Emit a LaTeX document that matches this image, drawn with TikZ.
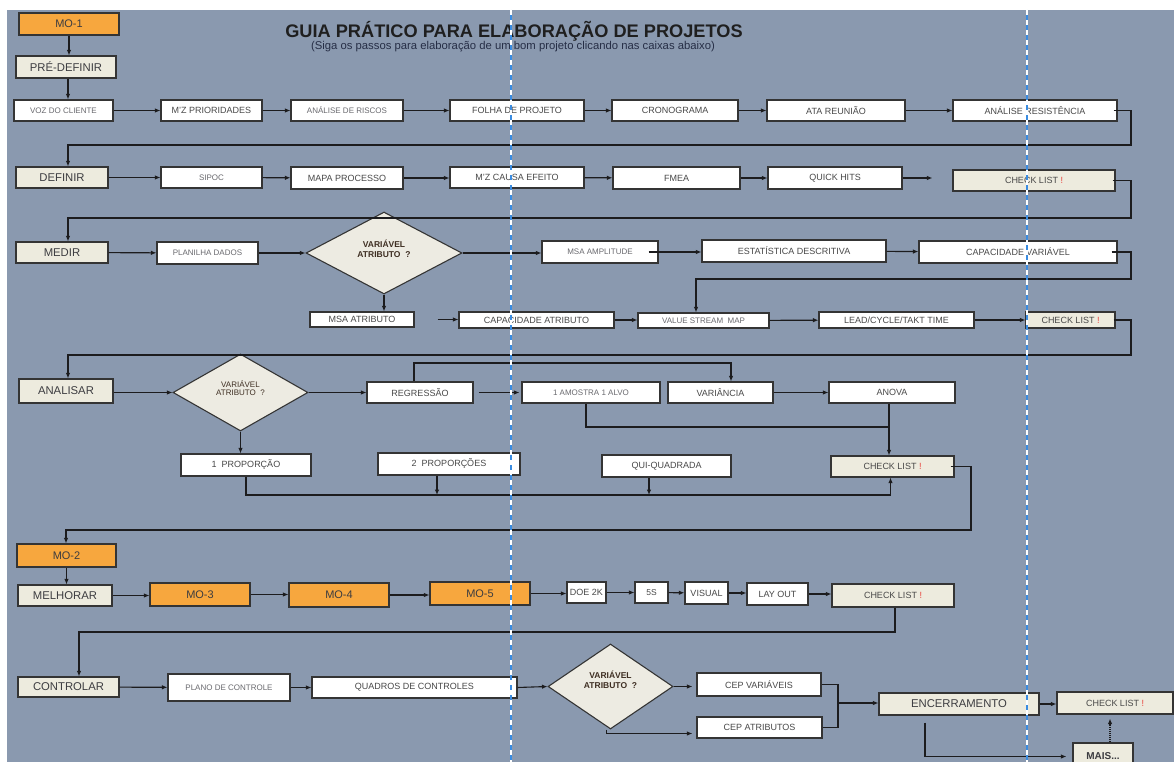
\documentclass[tikz,border=0pt]{standalone}
\usepackage{fontspec}
\setmainfont{Liberation Sans}
\usetikzlibrary{arrows.meta,shapes.geometric}

\definecolor{panel}{RGB}{138,153,175}
\definecolor{edge}{RGB}{52,52,52}
\definecolor{lc}{RGB}{28,28,30}
\definecolor{orangebox}{RGB}{247,167,62}
\definecolor{beige}{RGB}{237,235,222}
\definecolor{decfill}{RGB}{237,235,226}
\definecolor{txt}{RGB}{72,72,72}
\definecolor{txtlight}{RGB}{105,105,110}
\definecolor{stagetxt}{RGB}{60,60,64}
\definecolor{qtxt}{RGB}{62,46,34}
\definecolor{alert}{RGB}{232,64,58}
\definecolor{guide}{RGB}{58,140,225}

% a box given by its corners: style, name, x1, y1, x2, y2, text
\newcommand\flowbox[7]{%
  \node[#1, minimum width={(#5)-(#3)}, minimum height={(#6)-(#4)}]
    (#2) at ({((#3)+(#5))/2},{((#4)+(#6))/2}) {#7};}
\newcommand\redbang{\textcolor{alert}{!}}

\begin{document}
\begin{tikzpicture}[x=1pt,y=-1pt,
  fs/.style={font=\fontsize{#1}{#1}\selectfont},
  base/.style={draw=edge, line width=1.1pt, inner sep=0pt, text=txt},
  wbox/.style={base, fill=white, fs=9},
  lbox/.style={base, fill=white, fs=8, text=txtlight},
  stage/.style={base, fill=beige, fs=11.3, text=stagetxt},
  mo/.style={base, fill=orangebox, fs=11, text=stagetxt},
  chk/.style={base, fill=beige, fs=9},
  dec/.style={draw=edge, line width=1.1pt, fill=decfill, shape=diamond, inner sep=0pt},
  qtext/.style={font=\fontsize{8.5}{10}\selectfont\bfseries, text=qtxt, align=center},
  conn/.style={draw=lc, line width=1.1pt, -{Latex[length=5.5pt,width=4.5pt]}},
  plain/.style={draw=lc, line width=1.1pt},
]
\useasboundingbox (0,0) rectangle (1176,762);
\clip (0,0) rectangle (1176,762);
\fill[white] (0,0) rectangle (1176,762);
\fill[panel] (7,10) rectangle (1174,762);

% heading
\node[anchor=base, inner sep=0pt, font=\fontsize{18.2}{18}\selectfont\bfseries, text=black!88] (title) at (514,37.5)
  {GUIA PRÁTICO PARA ELABORAÇÃO DE PROJETOS};
\node[anchor=base, inner sep=0pt, fs=11.3, text={rgb,255:red,38;green,46;blue,70}] (subtitle) at (513,50)
  {(Siga os passos para elaboração de um bom projeto clicando nas caixas abaixo)};

% pre-definir
\flowbox{mo}{mo1}{19}{13}{119}{35}{MO-1}
\flowbox{stage}{pre}{16}{56}{116}{78}{PRÉ-DEFINIR}
\flowbox{lbox}{voz}{14}{100}{113}{121}{VOZ DO CLIENTE}
\flowbox{wbox}{mzp}{161}{100}{262}{121}{M'Z PRIORIDADES}
\flowbox{lbox}{ris}{291}{100}{403}{121}{ANÁLISE DE RISCOS}
\flowbox{wbox}{fol}{450}{100}{584}{121}{FOLHA DE PROJETO}
\flowbox{wbox}{cro}{612}{100}{738}{121}{CRONOGRAMA}
\flowbox{wbox}{ata}{767}{100}{905}{121}{ATA REUNIÃO}
\flowbox{wbox}{res}{953}{100}{1117}{121}{ANÁLISE RESISTÊNCIA}

% definir
\flowbox{stage}{def}{16}{167}{108}{188}{DEFINIR}
\flowbox{lbox}{sip}{161}{167}{262}{188}{SIPOC}
\flowbox{wbox}{map}{291}{167}{403}{189}{MAPA PROCESSO}
\flowbox{wbox}{mzc}{450}{167}{584}{188}{M'Z CAUSA EFEITO}
\flowbox{wbox}{fme}{613}{167}{740}{189}{FMEA}
\flowbox{wbox}{qh}{768}{167}{902}{189}{QUICK HITS}
\flowbox{chk}{ckA}{953}{170}{1115}{191}{CHECK LIST \redbang}

% medir
\flowbox{stage}{med}{16}{242}{108}{263}{MEDIR}
\flowbox{lbox}{pla}{157}{242}{258}{264}{PLANILHA DADOS}
\node[dec, minimum width=156pt, minimum height=82pt] (qA) at (384,253) {};
\node[qtext] (qAt) at ([yshift=4pt]qA.center) {VARIÁVEL\\ATRIBUTO\ \ ?};
\flowbox{wbox}{msaa}{310}{312}{414}{327}{MSA ATRIBUTO}
\flowbox{lbox}{msam}{542}{241}{658}{263}{MSA AMPLITUDE}
\flowbox{wbox}{est}{702}{240}{886}{262}{ESTATÍSTICA DESCRITIVA}
\flowbox{wbox}{capv}{919}{241}{1117}{263}{CAPACIDADE VARIÁVEL}
\flowbox{wbox}{capa}{459}{312}{614}{328}{CAPACIDADE ATRIBUTO}
\flowbox{lbox}{vsm}{638}{313}{769}{328}{VALUE STREAM\ \ MAP}
\flowbox{wbox}{lct}{819}{312}{974}{328}{LEAD/CYCLE/TAKT TIME}
\flowbox{chk}{ckB}{1026}{312}{1115}{328}{CHECK LIST \redbang}

% analisar
\flowbox{stage}{ana}{19}{379}{113}{403}{ANALISAR}
\node[dec, minimum width=135pt, minimum height=77pt] (qB) at (240.5,392.5) {};
\node[qtext, fs=8] (qBt) at ([yshift=4pt]qB.center) {VARIÁVEL\\ATRIBUTO\ \ ?};
\flowbox{wbox}{reg}{367}{382}{473}{403}{REGRESSÃO}
\flowbox{lbox}{amo}{522}{382}{660}{403}{1 AMOSTRA 1 ALVO}
\flowbox{wbox}{var}{668}{382}{773}{403}{VARIÂNCIA}
\flowbox{wbox}{anv}{829}{382}{955}{403}{ANOVA}
\flowbox{chk}{ckC}{831}{456}{954}{477}{CHECK LIST \redbang}
\flowbox{wbox}{pA}{181}{454}{311}{476}{1\ \ PROPORÇÃO}
\flowbox{wbox}{pB}{378}{453}{520}{475}{2\ \ PROPORÇÕES}
\flowbox{wbox}{qui}{602}{455}{731}{477}{QUI-QUADRADA}

% melhorar
\flowbox{mo}{mo2}{17}{544}{116}{567}{MO-2}
\flowbox{stage}{mel}{18}{585}{112}{606}{MELHORAR}
\flowbox{mo}{mo3}{150}{583}{250}{606}{MO-3}
\flowbox{mo}{mo4}{289}{583}{389}{607}{MO-4}
\flowbox{mo}{mo5}{430}{582}{530}{605}{MO-5}
\flowbox{wbox}{doe}{567}{582}{606}{603}{DOE 2K}
\flowbox{wbox,fs=8.5}{five}{635}{582}{668}{603}{5S}
\flowbox{wbox}{vis}{685}{582}{728}{604}{VISUAL}
\flowbox{wbox}{lay}{747}{583}{808}{605}{LAY OUT}
\flowbox{chk}{ckD}{832}{584}{954}{607}{CHECK LIST \redbang}

% controlar
\flowbox{stage}{con}{18}{677}{119}{697}{CONTROLAR}
\flowbox{lbox}{pdc}{168}{674}{290}{701}{PLANO DE CONTROLE}
\flowbox{wbox}{qdc}{312}{677}{517}{698}{QUADROS DE CONTROLES}
\node[dec, minimum width=125pt, minimum height=85pt] (qC) at (610.5,686.5) {};
\node[qtext] (qCt) at ([yshift=7pt]qC.center) {VARIÁVEL\\ATRIBUTO\ \ ?};
\flowbox{wbox}{cepv}{697}{673}{821}{696}{CEP VARIÁVEIS}
\flowbox{wbox}{cepa}{697}{717}{822}{738}{CEP ATRIBUTOS}
\flowbox{stage}{enc}{879}{693}{1039}{715}{ENCERRAMENTO}
\flowbox{chk}{ckE}{1057}{692}{1173}{714}{CHECK LIST \redbang}
\flowbox{stage,font=\fontsize{10}{10}\selectfont\bfseries}{mais}{1073}{743}{1133}{770}{MAIS...}

% turning points of the long return lines
\coordinate (tA) at (1131,145);
\coordinate (tB) at (1131,218);
\coordinate (tC) at (1131,279);
\coordinate (tD) at (1131,355);
\coordinate (tE) at (600,363);
\coordinate (jA) at (889,427);
\coordinate (bus) at (600,495);
\coordinate (tF) at (971,530);
\coordinate (tG) at (400,632);
\coordinate (jB) at (838,703);

% pre-definir flow
\draw[conn] (mo1.south) -- (mo1.south |- pre.north);
\draw[conn] ([xshift=2pt]pre.south) -- ([xshift=2pt]pre.south |- voz.north);
\draw[conn] (voz) -- (mzp);
\draw[conn] (mzp) -- (ris);
\draw[conn] (ris) -- (fol);
\draw[conn] (fol) -- (cro);
\draw[conn] (cro) -- (ata);
\draw[conn] (ata) -- (res);
\draw[conn] ([xshift=-4pt]res.east) -| (tA) -| ([xshift=6pt]def.north);

% definir flow
\draw[conn] (def) -- (sip);
\draw[conn] (sip) -- (map);
\draw[conn] (map.east) -- (map.east -| mzc.west);
\draw[conn] (mzc) -- (fme);
\draw[conn] (fme) -- (qh);
\draw[conn, shorten >=20pt] (qh.east) -- (qh.east -| ckA.west);
\draw[conn] ([xshift=-3pt]ckA.east) -| (tB) -| ([xshift=6pt]med.north);

% medir flow
\draw[conn] (med) -- (pla);
\draw[conn] (pla.east |- qA.west) -- (qA.west);
\draw[conn] (qA.south) -- (qA.south |- msaa.north);
\draw[conn] (qA.east) -- (qA.east -| msam.west);
\draw[conn] ([xshift=-10pt]msam.east) -- (msam.east -| est.west);
\draw[conn] (est) -- (capv);
\draw[conn] ([xshift=-6pt]capv.east) -| (tC) -| ([xshift=-7.5pt]vsm.north);
\draw[conn, shorten <=23pt] (msaa.east) -- (msaa.east -| capa.west);
\draw[conn] (capa.east) -- (capa.east -| vsm.west);
\draw[conn] (vsm) -- (lct);
\draw[conn] (lct) -- (ckB);
\draw[conn] ([xshift=-2pt]ckB.east) -| (tD) -| ([xshift=2pt]ana.north);

% analisar flow
\draw[conn] (ana.east |- qB.west) -- (qB.west);
\draw[conn] (qB.east) -- (qB.east -| reg.west);
\draw[conn] ([xshift=-6pt]reg.north) |- (tE) -| ([xshift=10.5pt]var.north);
\draw[conn, shorten <=5pt, shorten >=2pt] (reg) -- (amo);
\draw[conn] (var) -- (anv);
\draw[plain] ([xshift=-5pt]amo.south) |- (jA);
\draw[conn] ([xshift=-3pt]anv.south) -- ([xshift=-3pt]anv.south |- ckC.north);
\draw[conn] (qB.south) -- (qB.south |- pA.north);
\draw[conn] (pA.south) |- (bus) -| ([xshift=-2pt]ckC.south);
\draw[conn] ([xshift=-12pt]pB.south) -- ([xshift=-12pt]pB.south |- bus);
\draw[conn] ([xshift=-17.5pt]qui.south) -- ([xshift=-17.5pt]qui.south |- bus);
\draw[conn] ([xshift=-4pt]ckC.east) -| (tF) -| ([xshift=-0.5pt]mo2.north);

% melhorar flow
\draw[conn] (mo2.south) -- (mo2.south |- mel.north);
\draw[conn] (mel.east) -- (mel.east -| mo3.west);
\draw[conn] (mo3.east) -- (mo3.east -| mo4.west);
\draw[conn] (mo4.east) -- (mo4.east -| mo5.west);
\draw[conn] (mo5.east) -- (mo5.east -| doe.west);
\draw[conn] (doe) -- (five);
\draw[conn] (five) -- (vis);
\draw[conn] (vis.east) -- (vis.east -| lay.west);
\draw[conn] (lay.east) -- (lay.east -| ckD.west);
\draw[conn] ([xshift=2pt]ckD.south) |- (tG) -| ([xshift=10.5pt]con.north);

% controlar flow
\draw[conn] (con) -- (pdc);
\draw[conn] (pdc.east) -- (pdc.east -| qdc.west);
\draw[conn] (qdc.east) -- (qC.west);
\draw[conn, shorten >=4pt] (qC.east) -- (qC.east -| cepv.west);
\draw[conn, shorten >=4pt] ([xshift=-4pt]qC.south) |- ([yshift=-6pt]cepa.west);
\draw[plain] (cepv.east) -| (jB);
\draw[plain] (cepa.east) -| (jB);
\draw[conn] (jB) -- (jB -| enc.west);
\draw[conn] (enc.east) -- (enc.east -| ckE.west);
\draw[conn, shorten >=6pt] ([xshift=-34pt,yshift=-7pt]enc.south) |- (mais.west);
\draw[conn, densely dotted, shorten >=4pt] ([xshift=7pt]mais.north) -- ([xshift=7pt]mais.north |- ckE.south);

% page-break guides
\foreach \gx in {511,1027}{
  \draw[guide, line width=1.4pt] (\gx,10) -- (\gx,762);
  \draw[white, line width=1.4pt, dash pattern=on 5pt off 5pt] (\gx,10) -- (\gx,762);
}
\end{tikzpicture}
\end{document}
